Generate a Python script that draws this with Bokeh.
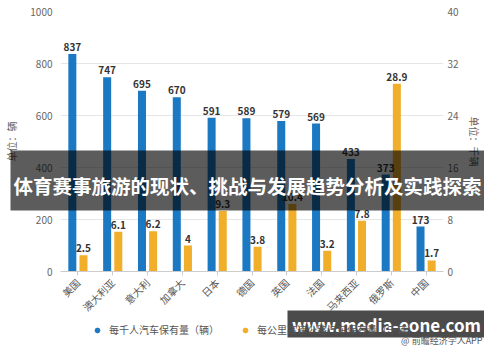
import math
from bokeh.plotting import figure
from bokeh.models import (ColumnDataSource, FactorRange, Range1d, LinearAxis, LabelSet,
                          Label, BoxAnnotation, Legend, LegendItem, FixedTicker, GridBox)
from bokeh.core.properties import value
from bokeh.transform import dodge
from bokeh.embed import file_html
from bokeh.resources import INLINE

categories = ["美国", "澳大利亚", "意大利", "加拿大", "日本", "德国", "英国", "法国", "马来西亚", "俄罗斯", "中国"]
cars_per_thousand = [837, 747, 695, 670, 591, 589, 579, 569, 433, 373, 173]
cars_per_km = [2.5, 6.1, 6.2, 4, 9.3, 3.8, 10.4, 3.2, 7.8, 28.9, 1.7]
left_ticks = [0, 200, 400, 600, 800, 1000]
right_ticks = [0, 8, 16, 24, 32, 40]
series_names = ["每千人汽车保有量（辆）", "每公里高速公路汽车保有量（千辆）"]
title_text = "体育赛事旅游的现状、挑战与发展趋势分析及实践探索"
site_text = "www.media-eone.com"
source_text = "@ 前瞻经济学人APP"

BLUE = "#1b78c2"
YELLOW = "#f0ae2a"
FONT = "Noto Sans CJK SC"
W, H = 484, 346
NAN = float("nan")

src = ColumnDataSource(dict(
    cat=categories,
    blue=cars_per_thousand,
    yellow=cars_per_km,
    blue_lbl=[str(v) for v in cars_per_thousand],
    yellow_lbl=[str(v) for v in cars_per_km],
))

p = figure(
    width=W, height=H, output_backend="svg", toolbar_location=None,
    x_range=FactorRange(*categories, start=-0.24, end=10.95),
    y_range=Range1d(0, 1000),
    min_border_left=60, min_border_right=38, min_border_top=11, min_border_bottom=75,
    background_fill_color="white", border_fill_color="white", outline_line_color=None,
)
p.frame_align = False
p.extra_y_ranges = {"right": Range1d(0, 40)}

bw = 0.23
off = 0.16
p.vbar(x=dodge("cat", -off, range=p.x_range), top="blue", width=bw, source=src,
       color=BLUE, line_color=None)
p.vbar(x=dodge("cat", off, range=p.x_range), top="yellow", width=bw, source=src,
       color=YELLOW, line_color=None, y_range_name="right")

lbl_kw = dict(y_offset=3, text_align="center", text_baseline="bottom",
              text_font=value(FONT), text_font_size="10px", text_font_style="bold",
              text_color="#333333")
p.add_layout(LabelSet(x=dodge("cat", -off, range=p.x_range), y="blue", text="blue_lbl",
                      source=src, **lbl_kw))
p.add_layout(LabelSet(x=dodge("cat", off, range=p.x_range), y="yellow", text="yellow_lbl",
                      source=src, y_range_name="right", **lbl_kw))

# x axis
p.xaxis.major_label_orientation = math.pi / 4
p.xaxis.major_label_text_font = FONT
p.xaxis.major_label_text_font_size = "10px"
p.xaxis.major_label_text_color = "#555555"
p.xaxis.axis_line_color = "#cccccc"
p.xaxis.major_tick_line_color = "#cccccc"
p.xaxis.major_tick_in = 0
p.xaxis.major_tick_out = 4
p.xaxis.minor_tick_line_color = None
p.xgrid.grid_line_color = None

# y axes
p.yaxis.ticker = FixedTicker(ticks=left_ticks)
p.yaxis.axis_label = "单位：辆"
right = LinearAxis(y_range_name="right", ticker=FixedTicker(ticks=right_ticks),
                   axis_label="单位：千辆")
p.add_layout(right, "right")
for ax in [p.yaxis[0], right]:
    ax.axis_line_color = None
    ax.major_tick_line_color = None
    ax.major_tick_in = 0
    ax.major_tick_out = 0
    ax.minor_tick_line_color = None
    ax.minor_tick_in = 0
    ax.minor_tick_out = 0
    ax.major_label_text_font = FONT
    ax.major_label_text_font_size = "10px"
    ax.major_label_text_color = "#666666"
    ax.axis_label_text_font = FONT
    ax.axis_label_text_font_size = "10px"
    ax.axis_label_text_font_style = "normal"
    ax.axis_label_text_color = "#666666"
p.yaxis[0].major_label_standoff = 8
p.yaxis[0].axis_label_standoff = 8
right.major_label_standoff = 4
right.axis_label_standoff = 5
p.ygrid.grid_line_color = "#e6e6e6"

# ---- overlay figure (canvas pixel coordinates, y down) ----
ov = figure(width=W, height=H, output_backend="svg", toolbar_location=None,
            x_range=Range1d(0, W), y_range=Range1d(H, 0),
            x_axis_type=None, y_axis_type=None,
            min_border=0, min_border_left=0, min_border_right=0,
            min_border_top=0, min_border_bottom=0,
            background_fill_color=None, border_fill_color=None, outline_line_color=None)
ov.frame_align = False

lg_b = ov.scatter(x=[NAN], y=[NAN], marker="circle", size=11, color=BLUE)
lg_y = ov.scatter(x=[NAN], y=[NAN], marker="circle", size=11, color=YELLOW)
legend = Legend(items=[LegendItem(label=series_names[0], renderers=[lg_b]),
                       LegendItem(label=series_names[1], renderers=[lg_y])],
                orientation="horizontal", location=(91, 9),
                label_text_font=FONT, label_text_font_size="10px", label_text_color="#555555",
                glyph_width=12, glyph_height=12, label_standoff=6, spacing=20,
                padding=0, margin=0, border_line_color=None, background_fill_alpha=0)
ov.add_layout(legend)

ov.add_layout(BoxAnnotation(left=10, right=W, top=150, bottom=210,
                            fill_color="black", fill_alpha=0.64, line_color=None))
ov.add_layout(Label(x=247, y=185, text=title_text,
                    text_align="center", text_baseline="middle", text_font=FONT,
                    text_font_size="19.5px", text_font_style="bold", text_color="white"))
ov.add_layout(BoxAnnotation(left=287, right=W, top=310, bottom=337,
                            fill_color="#3c3c3c", fill_alpha=0.92, line_color=None))
ov.add_layout(Label(x=386, y=323.5, text=site_text,
                    text_align="center", text_baseline="middle", text_font=FONT,
                    text_font_size="17px", text_font_style="bold", text_color="white"))
ov.add_layout(Label(x=482, y=346, text=source_text,
                    text_align="right", text_baseline="bottom", text_font=FONT,
                    text_font_size="9px", text_color="#555555"))

root = GridBox(children=[(p, 0, 0), (ov, 0, 0)])
open("out.html", "w").write(file_html(root, INLINE))
